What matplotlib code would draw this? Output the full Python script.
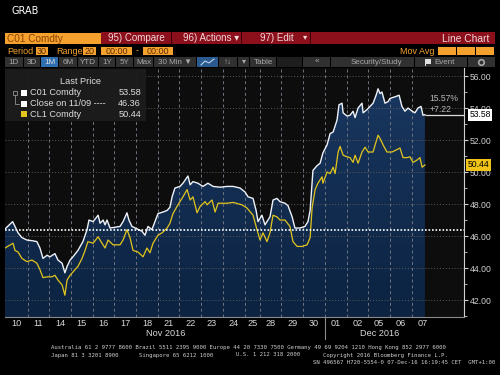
import numpy as np
import matplotlib
matplotlib.use('Agg')
import matplotlib.pyplot as plt
from matplotlib.patches import Rectangle
from matplotlib.colors import LinearSegmentedColormap
from matplotlib.transforms import blended_transform_factory

W, H = 500, 375

# Handelstage auf der x-Achse (25.11. war ein verkuerzter Handelstag)
day_labels = ['10', '11', '14', '15', '16', '17', '18', '21', '22', '23', '24', '25',
              '28', '29', '30', '01', '02', '05', '06', '07']
session_len = [1] * 11 + [0.7] + [1] * 8
months = ['Nov 2016', 'Dec 2016']
month_first_day = [0, 15]

close_1109 = 46.36

# C01 Comdty (Brent), Position in Handelstagen
c01_t = [0.00, 0.35, 0.46, 0.60, 0.78, 1.01, 1.29, 1.47, 1.61, 1.75,
         1.94, 2.07, 2.30, 2.44, 2.63, 2.76, 2.86, 3.00, 3.13, 3.36,
         3.59, 3.78, 3.87, 4.06, 4.29, 4.38, 4.52, 4.61, 4.70, 4.84,
         5.07, 5.30, 5.44, 5.62, 5.71, 5.85, 6.08, 6.31, 6.45, 6.59,
         6.77, 6.91, 7.05, 7.28, 7.47, 7.60, 7.70, 7.83, 8.06, 8.20,
         8.43, 8.53, 8.66, 8.89, 9.12, 9.35, 9.59, 9.91, 10.23, 10.51,
         10.83, 11.06, 11.20, 11.43, 11.57, 11.66, 11.84, 11.98, 12.21, 12.35,
         12.53, 12.67, 12.90, 13.04, 13.23, 13.36, 13.59, 13.82, 13.96, 14.06,
         14.19, 14.38, 14.52, 14.65, 14.84, 14.98, 15.12, 15.30, 15.39, 15.53,
         15.58, 15.76, 15.90, 16.04, 16.13, 16.27, 16.45, 16.50, 16.68, 16.82,
         16.96, 17.10, 17.19, 17.28, 17.37, 17.51, 17.65, 17.74, 17.97, 18.16,
         18.29, 18.43, 18.57, 18.76, 18.89, 19.03, 19.17, 19.26, 19.35]
c01_v = [46.44, 46.9, 46.6, 46.2, 45.9, 45.75, 45.7, 45.65, 45.25, 44.6,
         44.8, 44.7, 44.9, 44.5, 44.3, 43.7, 44.1, 44.5, 44.7, 45.1,
         45.65, 46.4, 47.0, 46.9, 47.3, 46.8, 47.0, 46.7, 47.0, 46.5,
         46.55, 46.6, 46.9, 47.45, 47.0, 46.6, 46.45, 46.3, 46.05, 46.6,
         46.4, 46.9, 47.4, 47.5, 47.6, 47.8, 48.45, 49.0, 49.1, 49.3,
         49.75, 49.2, 49.4, 49.3, 49.1, 49.3, 49.1, 49.05, 49.1, 49.1,
         49.0, 48.75, 48.45, 48.35, 47.6, 46.9, 47.3, 46.7, 47.2, 48.25,
         48.35, 48.15, 48.05, 47.9, 47.2, 46.5, 46.5, 46.6, 46.9, 47.6,
         50.1, 50.4, 50.55, 51.2, 51.7, 52.4, 52.5, 53.25, 54.2, 54.3,
         53.7, 53.5, 53.55, 53.8, 53.4, 54.0, 54.3, 53.7, 53.9, 54.1,
         54.3, 54.8, 55.2, 54.9, 55.0, 54.3, 54.4, 54.6, 54.7, 54.8,
         54.1, 53.8, 54.0, 53.8, 53.7, 54.0, 54.1, 53.55, 53.58]

# CL1 Comdty (WTI)
cl1_t = [0.00, 0.37, 0.46, 0.60, 0.78, 1.01, 1.24, 1.47, 1.61, 1.75,
         1.94, 2.17, 2.30, 2.44, 2.63, 2.76, 2.86, 3.00, 3.13, 3.36,
         3.55, 3.69, 3.82, 4.06, 4.29, 4.47, 4.61, 4.75, 4.98, 5.30,
         5.44, 5.62, 5.76, 5.90, 6.13, 6.36, 6.54, 6.68, 6.82, 7.05,
         7.24, 7.47, 7.60, 7.74, 7.97, 8.20, 8.39, 8.53, 8.66, 8.85,
         8.99, 9.22, 9.31, 9.54, 9.68, 9.82, 10.23, 10.51, 10.92, 11.15,
         11.43, 11.61, 11.75, 11.89, 12.07, 12.21, 12.35, 12.53, 12.67, 12.90,
         13.13, 13.27, 13.46, 13.69, 13.92, 14.06, 14.15, 14.29, 14.42, 14.61,
         14.65, 14.84, 14.98, 15.12, 15.21, 15.35, 15.44, 15.58, 15.76, 15.90,
         16.04, 16.13, 16.27, 16.45, 16.59, 16.73, 16.96, 17.10, 17.19, 17.28,
         17.42, 17.60, 17.83, 18.06, 18.20, 18.34, 18.53, 18.66, 18.80, 18.99,
         19.12, 19.22, 19.35]
cl1_v = [45.25, 45.55, 45.1, 45.0, 44.6, 44.4, 44.5, 44.3, 43.9, 43.4,
         43.45, 43.45, 43.55, 43.25, 42.95, 42.3, 43.25, 43.55, 43.75, 44.1,
         44.6, 45.1, 45.65, 45.55, 45.95, 45.55, 45.25, 45.75, 45.45, 45.45,
         45.75, 46.4, 45.9, 45.1, 45.0, 44.7, 45.25, 44.95, 45.55, 46.05,
         46.2, 46.5, 46.8, 47.4, 47.95, 48.45, 48.9, 48.25, 48.45, 47.45,
         47.85, 48.15, 47.95, 48.25, 47.5, 48.05, 48.05, 48.1, 47.95, 47.75,
         47.3, 46.4, 45.75, 46.2, 45.65, 46.2, 47.3, 47.2, 47.0, 47.0,
         46.6, 45.65, 45.35, 45.35, 45.45, 45.9, 47.75, 48.9, 49.3, 49.7,
         49.3, 50.0, 49.9, 50.3, 49.9, 51.25, 51.6, 51.05, 50.95, 50.9,
         50.6, 51.05, 50.55, 51.25, 51.55, 51.25, 51.25, 51.9, 52.3, 52.1,
         51.7, 51.25, 51.25, 51.4, 51.5, 50.9, 50.9, 50.95, 50.6, 50.75,
         50.9, 50.3, 50.44]

plt.rcParams['font.family'] = ['Liberation Sans', 'DejaVu Sans']

fig = plt.figure(figsize=(5, 3.75), dpi=100, facecolor='black')


def fx(x):
    return x / W


def fy(y):
    return 1 - y / H


def frect(x0, y0, x1, y1, color, z=1, alpha=1.0):
    fig.patches.append(Rectangle((fx(x0), fy(y1)), fx(x1 - x0), (y1 - y0) / H,
                                 transform=fig.transFigure, fc=color, ec='none',
                                 zorder=z, alpha=alpha))


def ftext(x, y, s, **kw):
    kw.setdefault('va', 'center')
    fig.text(fx(x), fy(y), s, **kw)


# ---- Kopfzeilen (Bloomberg-Oberflaeche) ----
ftext(12, 11, 'GRAB', color='white', fontsize=7, family='DejaVu Sans')

orange = '#f5a12e'
red = '#8c0f1c'
frect(5, 33, 101, 44, orange)
ftext(7, 38.5, 'C01 Comdty', color='#8a4300', fontsize=7.2)
frect(101, 32, 495, 44, red)
for xs in [171, 241, 310]:
    frect(xs, 32, xs + 1, 44, '#3a0006', z=2)
ftext(136, 38, '95) Compare', color='#f0d8d8', fontsize=7, ha='center')
ftext(183, 38, '96) Actions \u25be', color='#f0d8d8', fontsize=7)
ftext(260, 38, '97) Edit', color='#f0d8d8', fontsize=7)
ftext(305, 38, '\u25be', color='#f0d8d8', fontsize=6, ha='center')
ftext(489, 39, 'Line Chart', color='#f0d8d8', fontsize=7.4, ha='right')

ftext(7, 51, 'Period', color=orange, fontsize=6.5)
frect(36, 47, 48, 55, orange)
ftext(42, 51, '30', color='#5a2c00', fontsize=6.5, ha='center')
ftext(56, 51, 'Range', color=orange, fontsize=6.5)
frect(83, 47, 96, 55, orange)
ftext(89.5, 51, '20', color='#5a2c00', fontsize=6.5, ha='center')
frect(101, 47, 132, 55, orange)
ftext(116.5, 51, '00:00', color='#5a2c00', fontsize=6.5, ha='center')
ftext(137, 51, '-', color=orange, fontsize=6.5, ha='center')
frect(143, 47, 173, 55, orange)
ftext(158, 51, '00:00', color='#5a2c00', fontsize=6.5, ha='center')
ftext(435, 51, 'Mov Avg', color=orange, fontsize=6.5, ha='right')
for bx in [438, 457, 476]:
    frect(bx, 47, bx + 18, 55, orange)

buttons = [(5, 23, '1D'), (24, 40, '3D'), (41, 58, '1M'), (59, 77, '6M'),
           (78, 98, 'YTD'), (99, 115, '1Y'), (116, 133, '5Y'), (134, 153, 'Max'),
           (154, 196, '30 Min \u25bc'), (197, 218, ''), (219, 237, '\u2191\u2193'),
           (238, 249, '\u25be'), (250, 276, 'Table'), (277, 302, ''),
           (303, 330, '\u00ab'), (331, 414, 'Security/Study'), (415, 467, 'Event'),
           (468, 495, '')]
for x0, x1, lab in buttons:
    bg = '#2f6fb0' if lab == '1M' else ('#2a5a90' if x0 == 197 else '#303030')
    if x0 == 277:
        bg = '#1e1e1e'
    frect(x0, 57, x1, 67, bg)
    if lab:
        ftext((x0 + x1) / 2 + (4 if lab in ('Security/Study', 'Event') else 0), 62, lab,
              color='#e0e0e0' if lab == '1M' else '#a8a8a8', fontsize=5.8, ha='center')
# kleine Symbole
fig.lines.append(plt.Line2D([fx(201), fx(205), fx(209), fx(214)], [fy(65), fy(61), fy(63), fy(59)],
                            transform=fig.transFigure, color='#cfe0f5', lw=0.7))
frect(425, 59.5, 431, 63.5, '#e0e0e0', z=2)
frect(425, 59.5, 425.8, 66, '#e0e0e0', z=2)
fig.lines.append(plt.Line2D([fx(481)], [fy(62)], transform=fig.transFigure, marker='o',
                            ms=4, mfc='none', mec='#a8a8a8', mew=1.2))

# ---- Diagramm ----
ylo, yhi = 40.94, 56.5
ax = fig.add_axes([fx(5), fy(317), fx(464 - 5), (317 - 68) / H])
ax.set_facecolor('#0d0d0d')

bounds = np.concatenate([[0.04], 0.04 + np.cumsum(session_len)])
centers = (bounds[:-1] + bounds[1:]) / 2

# Flaeche unter Brent mit Verlauf
poly = ax.fill_between(c01_t, c01_v, ylo, color='none', lw=0)
grad = np.linspace(0, 1, 256).reshape(-1, 1)
cmap = LinearSegmentedColormap.from_list('bbg', ['#0c2341', '#1a3862'])
im = ax.imshow(grad, extent=[0, c01_t[-1], ylo, yhi], origin='lower', aspect='auto',
               cmap=cmap, zorder=1)
im.set_clip_path(poly.get_paths()[0], transform=ax.transData)

for v in range(42, 57, 2):
    ax.axhline(v, color='#5a5a5a', lw=0.7, ls=(0, (1, 2)), zorder=1.5)
for b in bounds[1:-1]:
    ax.axvline(b, color='#6e7580', lw=0.7, ls=(0, (3, 3)), zorder=1.5)

ax.plot(c01_t, c01_v, color='#eef2f8', lw=1.0, zorder=3)
ax.plot(cl1_t, cl1_v, color='#e2c51c', lw=0.9, zorder=3)
ax.hlines(c01_v[-1], c01_t[-1], 21.15, color='#dddddd', lw=0.9, zorder=3)
ax.axhline(close_1109, color='white', lw=1.2, ls=(0, (1, 1.1)), zorder=4)

ax.set_xlim(0, 21.15)
ax.set_ylim(ylo, yhi)

for s in ['top', 'left']:
    ax.spines[s].set_visible(False)
ax.spines['bottom'].set_color('#8a8a8a')
ax.spines['right'].set_color('#d0d0d0')
ax.spines['right'].set_linewidth(0.8)
ax.set_xticks([])
ax.yaxis.tick_right()
ax.set_yticks(np.arange(42, 57, 2))
ax.set_yticks(np.arange(41, 57, 2), minor=True)
ax.set_yticklabels(['%.2f' % v for v in np.arange(42, 57, 2)])
ax.tick_params(axis='y', which='major', colors='#d0d0d0', labelsize=6.2, length=3, width=0.8, pad=1)
ax.tick_params(axis='y', which='minor', colors='#d0d0d0', length=2, width=0.6)

tr = blended_transform_factory(ax.transData, ax.transAxes)
for c, lab in zip(centers, day_labels):
    ax.text(c, -0.028, lab, transform=tr, ha='center', va='center', color='#d8d8d8', fontsize=6.6)
ends = list(month_first_day[1:]) + [len(day_labels)]
for m, a, e in zip(months, month_first_day, ends):
    ax.text((bounds[a] + bounds[e]) / 2, -0.068, m, transform=tr, ha='center', va='center',
            color='#d8d8d8', fontsize=6.6)
ax.plot([bounds[month_first_day[1]]] * 2, [0, -0.09], transform=tr, color='#8a8a8a',
        lw=0.8, clip_on=False)

# Preisetiketten rechts
trp = blended_transform_factory(ax.transAxes, ax.transData)
ax.text(1.012, c01_v[-1], '%.2f' % c01_v[-1], transform=trp, ha='left', va='center',
        fontsize=6.2, color='black', zorder=6,
        bbox=dict(boxstyle='square,pad=0.18', fc='white', ec='none'))
ax.text(1.008, cl1_v[-1], '%.2f' % cl1_v[-1], transform=trp, ha='left', va='center',
        fontsize=6.2, color='black', zorder=6,
        bbox=dict(boxstyle='square,pad=0.18', fc='#f0c419', ec='none'))
diff = c01_v[-1] - close_1109
ax.text(19.55, 54.6, '%.2f%%' % (diff / close_1109 * 100), color='#b8b8b8', fontsize=6.2,
        va='center')
ax.text(19.55, 53.92, '%+.2f' % diff, color='#b8b8b8', fontsize=6.2, va='center')

# Legende
frect(5, 69, 146, 121, '#1c1c1c', z=2, alpha=0.95)
ftext(80, 82, 'Last Price', color='#dddddd', fontsize=6.6, ha='center', zorder=3)
rows = [('C01 Comdty', c01_v[-1], 'white'),
        ('Close on 11/09 ----', close_1109, 'white'),
        ('CL1 Comdty', cl1_v[-1], '#e2c51c')]
for i, (name, val, col) in enumerate(rows):
    yy = 92.7 + i * 10.8
    frect(21, yy - 3, 27, yy + 3, col, z=3)
    ftext(30.5, yy, name, color='#dddddd', fontsize=6.6, zorder=3)
    ftext(141, yy, '%.2f' % val, color='#dddddd', fontsize=6.6, ha='right', zorder=3)
fig.patches.append(Rectangle((fx(13), fy(95)), fx(4), 4 / H, transform=fig.transFigure,
                             fc='none', ec='#aaaaaa', lw=0.5, zorder=3))
fig.lines.append(plt.Line2D([fx(15), fx(15), fx(19)], [fy(95), fy(103.5), fy(103.5)],
                            transform=fig.transFigure, color='#aaaaaa', lw=0.5, zorder=3))

# Fusszeile
mono = dict(family='DejaVu Sans Mono', fontsize=4.05, color='#d0d0d0')
ftext(51, 348, 'Australia 61 2 9777 8600 Brazil 5511 2395 9000 Europe 44 20 7330 7500 '
      'Germany 49 69 9204 1210 Hong Kong 852 2977 6000', **mono)
ftext(51, 355, 'Japan 81 3 3201 8900', **mono)
ftext(139, 355, 'Singapore 65 6212 1000', **mono)
ftext(236, 355, 'U.S. 1 212 318 2000', **mono)
ftext(323, 355, 'Copyright 2016 Bloomberg Finance L.P.', **mono)
ftext(495, 362, 'SN 496567 H720-5554-0 07-Dec-16 16:19:45 CET  GMT+1:00', ha='right', **mono)

fig.savefig('out.png', dpi=100, facecolor='black')
